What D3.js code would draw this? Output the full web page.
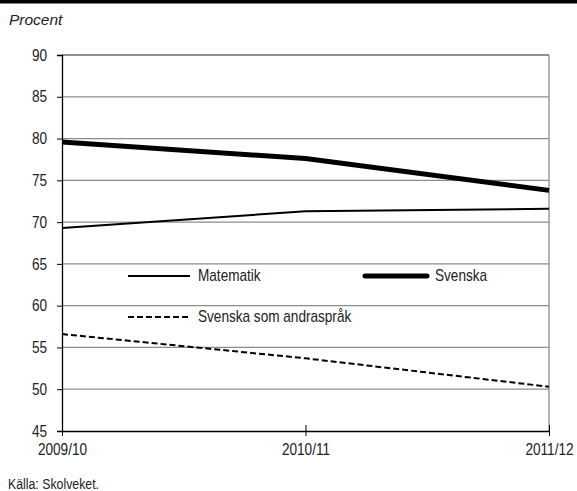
<!DOCTYPE html>
<html><head><meta charset="utf-8">
<script src="https://cdn.jsdelivr.net/npm/d3@7/dist/d3.min.js"></script>
<style>
body{margin:0;background:#fff;}
svg{display:block;}
</style></head>
<body><svg id="c" width="577" height="491"></svg>
<script>
const years = ["2009/10","2010/11","2011/12"];
const matematik = [69.3, 71.3, 71.6];
const svenska = [79.6, 77.6, 73.8];
const svenskaAndra = [56.6, 53.7, 50.3];
const yTicks = [45,50,55,60,65,70,75,80,85,90];

const FONT = "Liberation Sans, Arial, sans-serif";
const SX = 0.85;
function condense(sel){
  sel.each(function(){
    const t = d3.select(this);
    const x = +t.attr("x") || 0;
    t.attr("font-family",FONT).attr("transform",`translate(${x},0) scale(${SX},1) translate(${-x},0)`);
  });
}

const svg = d3.select("#c");
const L=62, R=549, T=55, B=431;
const x = d3.scalePoint().domain(years).range([L,R]);
const y = d3.scaleLinear().domain([45,90]).range([B,T]);

svg.append("rect").attr("x",0).attr("y",0).attr("width",577).attr("height",3.5).attr("fill","#000");
svg.append("text").attr("x",9).attr("y",25).attr("font-family",FONT)
  .attr("font-style","italic").attr("font-size",15.5).attr("fill","#222").text("Procent");

// gridlines
svg.append("g").selectAll("line").data(yTicks.filter(d=>d>45 && d<90)).join("line")
  .attr("x1",L).attr("x2",R).attr("y1",d=>y(d)).attr("y2",d=>y(d))
  .attr("stroke","#8c8c8c").attr("stroke-width",1.3);
svg.append("line").attr("x1",L).attr("x2",R).attr("y1",y(90)).attr("y2",y(90)).attr("stroke","#222").attr("stroke-width",1);
svg.append("line").attr("x1",R).attr("x2",R).attr("y1",T).attr("y2",B).attr("stroke","#8c8c8c").attr("stroke-width",1.3);

// y axis
const ya = svg.append("g").attr("transform",`translate(${L},0)`)
  .call(d3.axisLeft(y).tickValues(yTicks).tickSize(5).tickPadding(10).tickFormat(d3.format("d")));
ya.select(".domain").attr("stroke","#000").attr("stroke-width",1.3);
ya.selectAll(".tick line").attr("stroke","#000");
ya.selectAll("text").attr("font-size",16).attr("fill","#222").call(condense);

// x axis
const xa = svg.append("g").attr("transform",`translate(0,${B})`)
  .call(d3.axisBottom(x).tickSize(5).tickPadding(8).tickSizeOuter(0));
xa.select(".domain").attr("stroke","#000").attr("stroke-width",1.3);
xa.selectAll(".tick line").attr("stroke","#000").attr("y1",-6);
xa.selectAll("text").attr("font-size",16).attr("fill","#222").call(condense);

const line = d3.line().x((d,i)=>x(years[i])).y(d=>y(d));
svg.append("path").datum(matematik).attr("d",line).attr("fill","none").attr("stroke","#000").attr("stroke-width",2);
svg.append("path").datum(svenska).attr("d",line).attr("fill","none").attr("stroke","#000").attr("stroke-width",5);
svg.append("path").datum(svenskaAndra).attr("d",line).attr("fill","none").attr("stroke","#000").attr("stroke-width",2).attr("stroke-dasharray","6,3");

// legend
const leg = [
  {name:"Matematik", lx:128, ly:276, w:2, dash:null},
  {name:"Svenska", lx:365, ly:276, w:5, dash:null},
  {name:"Svenska som andraspråk", lx:128, ly:317, w:2, dash:"6,3"}
];
leg.forEach(l=>{
  svg.append("line").attr("x1",l.lx).attr("x2",l.lx+62).attr("y1",l.ly).attr("y2",l.ly)
    .attr("stroke","#000").attr("stroke-width",l.w).attr("stroke-dasharray",l.dash).attr("stroke-linecap",l.w>3?"round":"butt");
  svg.append("text").attr("x",l.lx+70).attr("y",l.ly+5.5).attr("font-size",16).attr("fill","#222").text(l.name).call(condense);
});

svg.append("text").attr("x",8).attr("y",489).attr("font-size",14.5).attr("fill","#222").text("Källa: Skolveket.").call(condense);
</script></body></html>
